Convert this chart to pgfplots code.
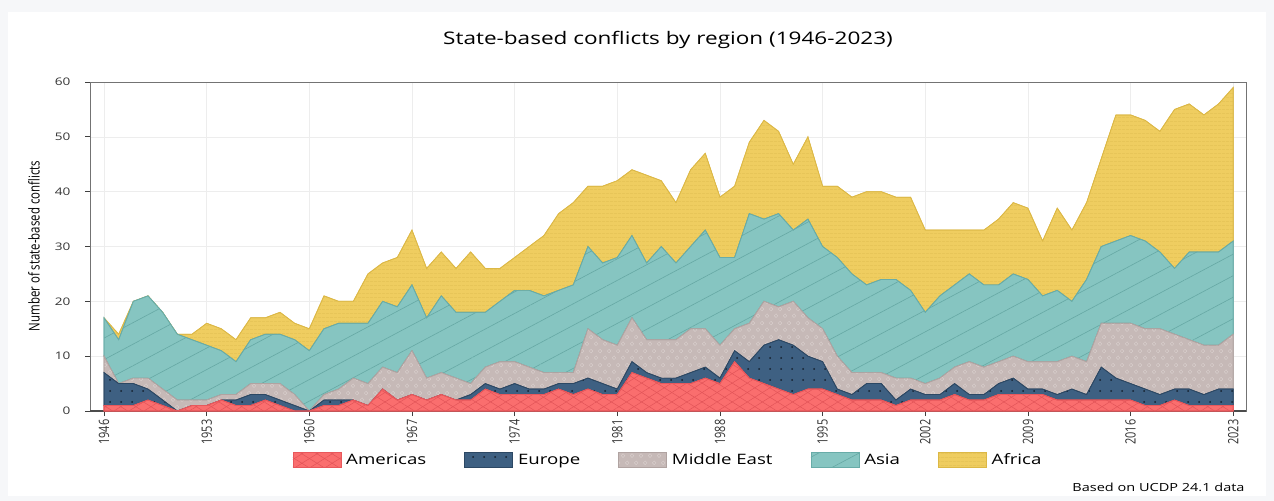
\documentclass[border=0pt]{standalone}
\usepackage{fontspec}
\setmainfont{Open Sans}
\usepackage{graphicx}
\usepackage{pgfplots}
\usepackage{pgfplotstable}
\pgfplotsset{compat=1.18}
\usetikzlibrary{patterns,patterns.meta}

\definecolor{bgG}{RGB}{246,247,249}
\definecolor{amC}{RGB}{250,110,110}
\definecolor{amL}{RGB}{232,88,92}
\definecolor{amP}{RGB}{226,84,88}
\definecolor{euC}{RGB}{62,96,130}
\definecolor{euL}{RGB}{44,72,100}
\definecolor{euD}{RGB}{20,32,46}
\definecolor{meC}{RGB}{198,185,183}
\definecolor{meL}{RGB}{176,163,161}
\definecolor{meP}{RGB}{216,206,204}
\definecolor{asC}{RGB}{134,197,193}
\definecolor{asL}{RGB}{104,172,168}
\definecolor{asP}{RGB}{102,168,164}
\definecolor{afC}{RGB}{239,205,96}
\definecolor{afL}{RGB}{220,184,70}
\definecolor{afP}{RGB}{228,193,84}

\newcommand{\hs}[1]{\scalebox{1.3}[1]{#1}}
\newcommand{\vs}[1]{\scalebox{1}[1.3]{#1}}

\pgfdeclarepatternformonly{rings}{\pgfqpoint{0bp}{0bp}}{\pgfqpoint{9bp}{14bp}}{\pgfqpoint{9bp}{14bp}}{%
  \pgfsetlinewidth{0.5bp}%
  \pgfpathcircle{\pgfqpoint{2.25bp}{3.5bp}}{2bp}%
  \pgfpathcircle{\pgfqpoint{6.75bp}{10.5bp}}{2bp}%
  \pgfusepath{stroke}}

\pgfplotstableread{
year A E M S F
1946 1 6 3 7 0
1947 1 4 0 8 1
1948 1 4 1 14 0
1949 2 2 2 15 0
1950 1 1 2 14 0
1951 0 0 2 12 0
1952 1 0 1 11 1
1953 1 0 1 10 4
1954 2 0 1 8 4
1955 1 1 1 6 4
1956 1 2 2 8 4
1957 2 1 2 9 3
1958 1 1 3 9 4
1959 0 1 2 10 3
1960 0 0 0 11 4
1961 1 1 1 12 6
1962 1 1 2 12 4
1963 2 0 4 10 4
1964 1 0 4 11 9
1965 4 0 4 12 7
1966 2 0 5 12 9
1967 3 0 8 12 10
1968 2 0 4 11 9
1969 3 0 4 14 8
1970 2 0 4 12 8
1971 2 1 2 13 11
1972 4 1 3 10 8
1973 3 1 5 11 6
1974 3 2 4 13 6
1975 3 1 4 14 8
1976 3 1 3 14 11
1977 4 1 2 15 14
1978 3 2 2 16 15
1979 4 2 9 15 11
1980 3 2 8 14 14
1981 3 1 8 16 14
1982 7 2 8 15 12
1983 6 1 6 14 16
1984 5 1 7 17 12
1985 5 1 7 14 11
1986 5 2 8 15 14
1987 6 2 7 18 14
1988 5 1 6 16 11
1989 9 2 4 13 13
1990 6 3 7 20 13
1991 5 7 8 15 18
1992 4 9 6 17 15
1993 3 9 8 13 12
1994 4 6 7 18 15
1995 4 5 6 15 11
1996 3 1 6 18 13
1997 2 1 4 18 14
1998 2 3 2 16 17
1999 2 3 2 17 16
2000 1 1 4 18 15
2001 2 2 2 16 17
2002 2 1 2 13 15
2003 2 1 3 15 12
2004 3 2 3 15 10
2005 2 1 6 16 8
2006 2 1 5 15 10
2007 3 2 4 14 12
2008 3 3 4 15 13
2009 3 1 5 15 13
2010 3 1 5 12 10
2011 2 1 6 13 15
2012 2 2 6 10 13
2013 2 1 6 15 14
2014 2 6 8 14 16
2015 2 4 10 15 23
2016 2 3 11 16 22
2017 1 3 11 16 22
2018 1 2 12 14 22
2019 2 2 10 12 29
2020 1 3 9 16 27
2021 1 2 9 17 25
2022 1 3 8 17 27
2023 1 3 10 17 28
}\conf

\begin{document}
\begin{tikzpicture}
\fill[bgG] (0,0) rectangle (1274bp,-501bp);
\fill[white] (8bp,-12bp) rectangle (1266bp,-496bp);
\begin{axis}[
  at={(90bp,-411bp)}, anchor=south west,
  scale only axis, width=1156bp, height=329bp,
  xmin=1945.045, xmax=2023.87, ymin=0, ymax=60,
  stack plots=y,
  /pgf/number format/1000 sep={},
  /pgf/number format/assume math mode=true,
  xtick={1946,1953,...,2023},
  ytick={0,10,...,60},
  grid=major,
  major grid style={draw=black!7, line width=0.6bp},
  axis line style={draw=black!55, line width=0.7bp},
  tick align=outside, major tick length=5bp,
  xtick pos=bottom, ytick pos=left,
  tick style={draw=black!75, line width=0.8bp},
  xticklabel={\vs{\pgfmathprintnumber{\tick}}},
  xticklabel style={rotate=90, anchor=east, font=\fontsize{11}{12}\selectfont, text=black!80},
  yticklabel={\hs{\pgfmathprintnumber{\tick}}},
  yticklabel style={font=\fontsize{10.5}{12}\selectfont, text=black!80, xshift=-11bp},
  legend style={at={(0.5,-0.149)}, anchor=center, draw=none, fill=none,
    legend columns=5, font=\fontsize{14.4}{16}\selectfont,
    /tikz/every odd column/.append style={column sep=3bp},
    /tikz/every even column/.append style={column sep=36bp}},
  legend image code/.code={\path[#1] (0bp,-7.5bp) rectangle (48bp,7.5bp);},
  legend cell align=left,
]
\addplot[draw=amL, line width=0.7bp, fill=amC, mark=none,
  postaction={pattern={Lines[angle=32,distance=8bp,line width=0.5bp]}, pattern color=amP},
  postaction={pattern={Lines[angle=-32,distance=8bp,line width=0.5bp]}, pattern color=amP}]
  table[x=year,y=A]{\conf} \closedcycle;
\addlegendentry{\hs{Americas}}
\addplot[draw=euL, line width=0.7bp, fill=euC, mark=none,
  postaction={pattern={Dots[distance=11bp,radius=1bp]}, pattern color=euD}]
  table[x=year,y=E]{\conf} \closedcycle;
\addlegendentry{\hs{Europe}}
\addplot[draw=meL, line width=0.7bp, fill=meC, mark=none,
  postaction={pattern=rings, pattern color=meP}]
  table[x=year,y=M]{\conf} \closedcycle;
\addlegendentry{\hs{Middle East}}
\addplot[draw=asL, line width=0.7bp, fill=asC, mark=none,
  postaction={pattern={Lines[angle=28,distance=19bp,line width=0.6bp]}, pattern color=asP}]
  table[x=year,y=S]{\conf} \closedcycle;
\addlegendentry{\hs{Asia}}
\addplot[draw=afL, line width=0.7bp, fill=afC, mark=none,
  postaction={pattern={Lines[angle=0,distance=3.6bp,line width=0.45bp]}, pattern color=afP}]
  table[x=year,y=F]{\conf} \closedcycle;
\addlegendentry{\hs{Africa}}
\draw[line width=1.6bp, draw=black!70] (rel axis cs:0,0) -- (rel axis cs:1,0);
\end{axis}
\node at (668bp,-40bp) {\fontsize{17.4}{20}\selectfont\hs{State-based conflicts by region (1946-2023)}};
\node[rotate=90] at (34bp,-246bp) {\fontsize{11.5}{13}\selectfont\vs{Number of state-based conflicts}};
\node[anchor=east] at (1248bp,-487bp) {\fontsize{11.2}{13}\selectfont\hs{Based on UCDP 24.1 data}};
\end{tikzpicture}
\end{document}
